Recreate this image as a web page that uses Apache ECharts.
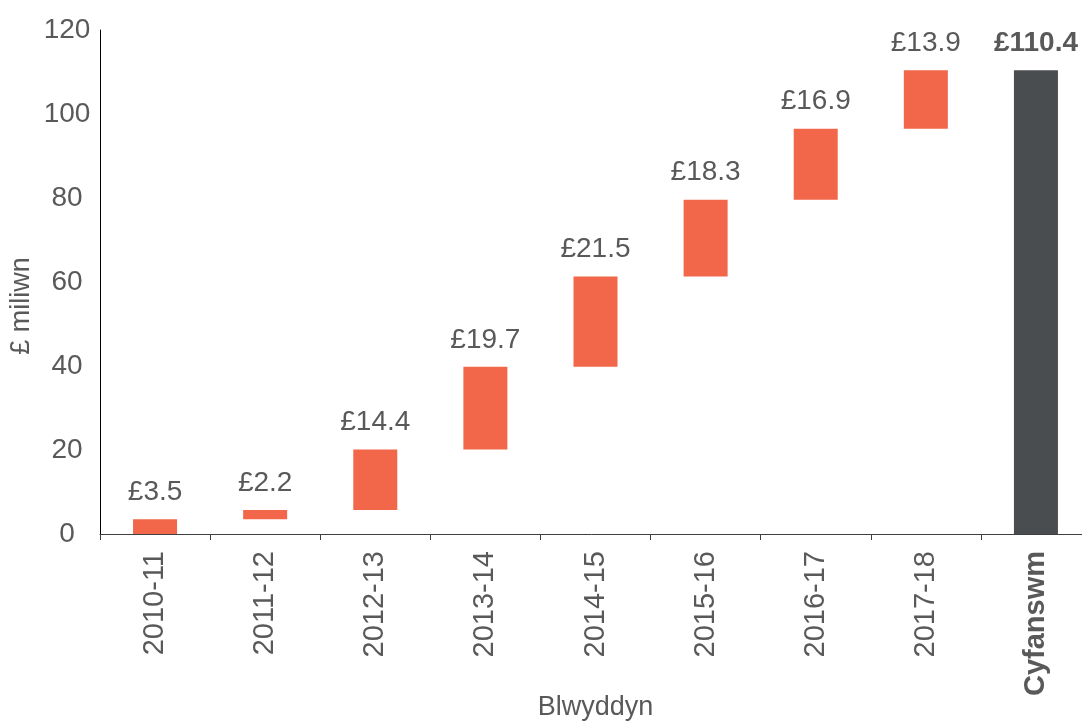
<!DOCTYPE html>
<html>
<head>
<meta charset="utf-8">
<script src="https://cdn.jsdelivr.net/npm/echarts@6/dist/echarts.min.js"></script>
<style>html,body{margin:0;padding:0;background:#fff}#c{width:1082px;height:724px}</style>
</head>
<body>
<div id="c"></div>
<script>
const categories = ['2010-11','2011-12','2012-13','2013-14','2014-15','2015-16','2016-17','2017-18','Cyfanswm'];
const increments = [3.5, 2.2, 14.4, 19.7, 21.5, 18.3, 16.9, 13.9];
const total = 110.4;
const yTicks = [0, 20, 40, 60, 80, 100, 120];

const base = [];
let run = 0;
increments.forEach(v => { base.push(run); run += v; });
base.push(0);
const visible = increments.concat([total]);

const FONT = 'Liberation Sans, Arial, sans-serif';
const GREY = '#595959';

const chart = echarts.init(document.getElementById('c'), null, {renderer: 'canvas'});
chart.setOption({
  animation: false,
  backgroundColor: '#fff',
  grid: {left: 100, top: 30, right: -9, bottom: 190, containLabel: false, outerBoundsMode: 'none'},
  xAxis: {
    type: 'category',
    data: categories,
    name: 'Blwyddyn',
    nameLocation: 'middle',
    nameGap: 160,
    nameMoveOverlap: false,
    nameTextStyle: {color: GREY, fontSize: 27, fontFamily: FONT},
    axisLine: {lineStyle: {color: '#404040', width: 1}},
    axisTick: {show: true, length: 6, lineStyle: {color: '#404040'}},
    axisLabel: {
      rotate: 90, margin: 17, color: GREY, fontSize: 29, fontFamily: FONT,
      formatter: v => v === 'Cyfanswm' ? '{b|' + v + '}' : v,
      rich: {b: {fontWeight: 'bold', fontSize: 29, color: GREY, fontFamily: FONT}}
    }
  },
  yAxis: {
    type: 'value',
    min: 0, max: 120, interval: 20,
    axisLine: {show: true, lineStyle: {color: '#000', width: 1}},
    axisTick: {show: false},
    splitLine: {show: false},
    axisLabel: {
      margin: 33, align: 'center', color: GREY, fontSize: 28, fontFamily: FONT,
      formatter: v => yTicks.includes(v) ? String(v) : ''
    }
  },
  graphic: [{
    type: 'text',
    x: 22, y: 306,
    rotation: Math.PI / 2,
    style: {text: '£ miliwn', fill: GREY, fontSize: 27, fontFamily: FONT, align: 'center', verticalAlign: 'middle'}
  }],
  series: [
    {
      type: 'bar', stack: 'w', barWidth: 44, silent: true,
      itemStyle: {color: 'transparent'},
      data: base
    },
    {
      type: 'bar', stack: 'w', barWidth: 44,
      data: visible.map((v, i) => ({
        value: v,
        itemStyle: {color: i === visible.length - 1 ? '#4A4D50' : '#F26649'},
        label: {fontWeight: i === visible.length - 1 ? 'bold' : 'normal'}
      })),
      label: {
        show: true, position: 'top', distance: 13,
        color: GREY, fontSize: 28, fontFamily: FONT,
        formatter: p => '£' + p.value.toFixed(1)
      }
    }
  ]
});
</script>
</body>
</html>
